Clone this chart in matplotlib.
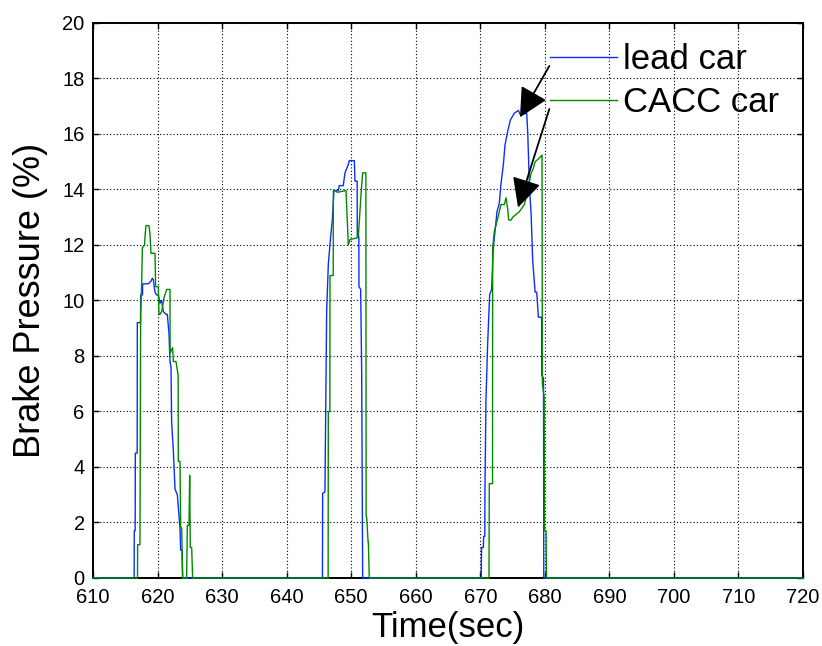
import matplotlib
matplotlib.use("Agg")
import matplotlib.pyplot as plt
from matplotlib import font_manager

# ---------------- data ----------------
lead_t = [610, 616.38, 616.4, 616.54, 616.56, 616.85, 616.87, 617.37, 617.39, 617.68, 617.7,
          618.57, 618.99, 619.2, 619.35, 619.61, 619.87, 620.12, 620.38, 620.64, 620.9, 621.31,
          621.52, 621.78, 621.93, 622.09, 622.19, 622.45, 622.71, 623.07, 623.48, 623.59, 623.8,
          623.89,
          645.55, 645.58, 645.94, 646.2, 646.46, 646.82, 647.08, 647.34, 648.01, 648.16, 648.78,
          649.04, 649.56, 649.71, 650.49, 650.59, 650.93, 650.95, 651.19, 651.21, 651.47, 651.63,
          651.78,
          670.15, 670.2, 670.48, 670.52, 670.7, 670.73, 670.88, 671.14, 671.45, 671.76, 672.02,
          672.33, 672.59, 672.95, 673.21, 673.58, 673.83, 674.25, 674.66, 675.28, 675.9, 676.2,
          677.2, 677.36, 677.62, 677.88, 678.13, 678.5, 678.75, 679.0, 679.5, 679.53, 679.8,
          679.84, 720]
lead_v = [0, 0, 1.7, 1.7, 4.5, 4.5, 9.2, 9.2, 10.2, 10.2, 10.6,
          10.6, 10.7, 10.8, 10.75, 10.3, 10.2, 10.2, 9.9, 10.0, 9.6, 9.5,
          9.5, 8.8, 7.8, 7.6, 5.6, 4.6, 3.2, 3.0, 1.8, 1.0, 1.0,
          0,
          0, 3.05, 3.1, 9.6, 11.3, 12.3, 12.9, 13.96, 13.96, 14.14, 14.14,
          14.6, 14.9, 15.04, 15.04, 14.3, 14.3, 12.3, 12.3, 10.5, 10.4, 7.4,
          0,
          0, 1.1, 1.1, 1.5, 1.5, 3.2, 6.4, 8.4, 10.2, 10.4, 11.9,
          12.6, 13.2, 13.5, 14.2, 14.9, 15.6, 16.1, 16.5, 16.75, 16.85, 16.7,
          16.75, 16.0, 14.1, 13.1, 11.4, 10.3, 10.3, 9.4, 9.4, 7.3, 7.2,
          0, 0]

cacc_t = [610, 616.9, 616.92, 617.28, 617.39, 617.54, 617.65, 618.0, 618.06, 618.21, 618.68,
          618.83, 618.99, 619.61, 619.71, 620.12, 620.23, 620.38, 620.64, 620.8, 621.0, 621.42,
          621.93, 621.95, 622.34, 622.45, 622.86, 623.2, 623.22, 623.48, 623.59, 623.74, 623.89,
          624.51, 624.62, 624.88, 624.98, 625.08, 625.29, 625.44,
          646.43, 646.46, 646.7, 646.72, 647.22, 647.24, 647.49, 647.86, 649.2, 649.56, 649.82,
          650.85, 651.11, 651.52, 651.78, 652.28, 652.32, 652.4, 652.62, 652.66, 652.81,
          671.35, 671.4, 671.9, 671.92, 672.18, 672.54, 672.95, 673.21, 673.73, 673.99, 674.25,
          674.4, 674.77, 675.03, 675.54, 676.06, 676.84, 677.36, 677.88, 678.13, 678.5, 679.0,
          679.57, 679.62, 679.9, 679.95, 680.2, 680.25, 720]
cacc_v = [0, 0, 1.2, 1.2, 9.5, 10.6, 11.9, 12.0, 12.3, 12.7, 12.7,
          12.4, 11.7, 11.7, 10.5, 10.5, 9.5, 9.5, 9.6, 9.8, 10.1, 10.4,
          10.4, 8.1, 8.3, 7.8, 7.8, 7.3, 4.2, 4.2, 1.8, 1.8, 0,
          0, 1.9, 1.9, 3.7, 1.1, 1.1, 0,
          0, 6.0, 6.0, 10.9, 10.9, 13.96, 13.96, 13.9, 13.96, 12.0, 12.2,
          12.25, 12.3, 13.8, 14.6, 14.6, 2.2, 2.2, 1.3, 1.3, 0,
          0, 3.4, 3.4, 11.9, 12.5, 12.8, 13.2, 13.46, 13.46, 13.7, 13.3,
          12.9, 12.9, 13.0, 13.1, 13.2, 13.46, 13.97, 14.6, 14.7, 15.0, 15.1,
          15.24, 7.0, 6.5, 1.7, 1.7, 0, 0]

series_labels = ["lead car", "CACC car"]
x_ticks = list(range(610, 721, 10))
y_ticks = list(range(0, 21, 2))
x_label = "Time(sec)"
y_label = "Brake Pressure (%)"

# arrows: (tail_x, tail_y) -> (tip_x, tip_y)
arrow_tails = [(680.7, 18.45), (680.7, 16.9)]
arrow_tips = [(676.15, 16.6), (675.85, 13.35)]

# ---------------- fonts ----------------
avail = {f.name for f in font_manager.fontManager.ttflist}
narrow = "Liberation Sans Narrow" if "Liberation Sans Narrow" in avail else "Liberation Sans"
regular = "Liberation Sans" if "Liberation Sans" in avail else "DejaVu Sans"
tick_size = 16 if narrow == "Liberation Sans Narrow" else 14.5
xlab_size = 30 if narrow == "Liberation Sans Narrow" else 25

fig = plt.figure(figsize=(8.22, 6.46), dpi=100)
ax = fig.add_axes([0.1131, 0.1053, 0.8638, 0.8591])

ax.plot(lead_t, lead_v, color="#0a2dff", lw=1.0, label=series_labels[0], zorder=3,
        clip_on=False)
ax.plot(cacc_t, cacc_v, color="#008a00", lw=1.0, label=series_labels[1], zorder=3,
        clip_on=False)

ax.set_xlim(610, 720)
ax.set_ylim(0, 20)
ax.set_xticks(x_ticks)
ax.set_yticks(y_ticks)
ax.grid(True, color="black", linestyle=(0, (1, 2)), linewidth=0.8)
ax.tick_params(direction="in", top=True, right=True, length=4, width=1.0,
               labelsize=tick_size)
ax.tick_params(axis="x", pad=7)
ax.tick_params(axis="y", pad=6)
for lab in ax.get_xticklabels() + ax.get_yticklabels():
    lab.set_fontfamily(narrow)
for s in ax.spines.values():
    s.set_linewidth(1.4)

ax.set_xlabel(x_label, fontsize=xlab_size, family=narrow, labelpad=3)
ax.set_ylabel(y_label, fontsize=26, family=regular, labelpad=10)

for (tx, ty), (hx, hy) in zip(arrow_tails, arrow_tips):
    ax.annotate("", xy=(hx, hy), xytext=(tx, ty),
                arrowprops=dict(arrowstyle="-|>,head_length=0.6,head_width=0.3",
                                mutation_scale=30, color="black", lw=1.3,
                                shrinkA=0, shrinkB=0), zorder=5)

leg = ax.legend(loc="upper left", bbox_to_anchor=(0.644, 0.964), frameon=False,
                prop={"family": regular, "size": 25}, handlelength=1.93,
                handletextpad=0.17, labelspacing=0.3, borderpad=0, borderaxespad=0)

fig.savefig("out.png", dpi=100)
